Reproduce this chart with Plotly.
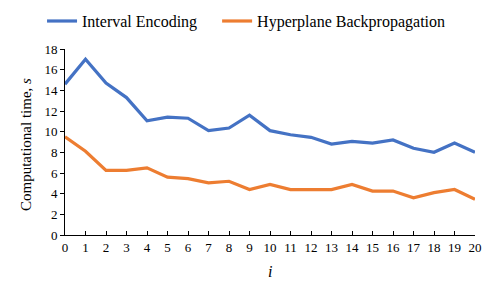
import plotly.graph_objects as go

iterations = list(range(21))
interval_encoding = [14.6, 17.0, 14.7, 13.3, 11.05, 11.4, 11.3, 10.1, 10.35, 11.6, 10.1,
                     9.7, 9.45, 8.8, 9.05, 8.9, 9.2, 8.4, 8.0, 8.9, 8.0]
hyperplane_backprop = [9.5, 8.1, 6.25, 6.25, 6.5, 5.6, 5.45, 5.05, 5.2, 4.4, 4.9,
                       4.4, 4.4, 4.4, 4.9, 4.25, 4.25, 3.6, 4.1, 4.4, 3.45]
x_ticks = list(range(0, 21))
y_ticks = list(range(0, 19, 2))

FONT = "Liberation Serif"

fig = go.Figure()
fig.add_trace(go.Scatter(x=iterations, y=interval_encoding, mode="lines",
                         name="Interval Encoding", legend="legend",
                         line=dict(color="#4472C4", width=3.2)))
fig.add_trace(go.Scatter(x=iterations, y=hyperplane_backprop, mode="lines",
                         name="Hyperplane Backpropagation", legend="legend2",
                         line=dict(color="#ED7D31", width=3.2)))

legend_common = dict(orientation="h", xanchor="left",
                     y=0.955, yref="container", yanchor="middle",
                     font=dict(size=16, family=FONT, color="#000"), itemwidth=30,
                     bgcolor="rgba(0,0,0,0)")

tick_font = dict(size=13, family=FONT, color="#000")

fig.update_layout(
    width=490, height=291,
    margin=dict(l=57, r=23, t=41, b=64),
    paper_bgcolor="white", plot_bgcolor="white",
    font=dict(family=FONT, size=13, color="#000"),
    showlegend=True,
    legend=dict(x=-0.056, **legend_common),
    legend2=dict(x=0.371, **legend_common),
    xaxis=dict(range=[0, 20], tickvals=x_ticks, ticktext=[str(v) for v in x_ticks],
               showgrid=False, zeroline=False, showline=True, linecolor="#000",
               linewidth=1, ticks="inside", ticklen=4, tickcolor="#000",
               tickfont=tick_font, automargin=False),
    yaxis=dict(range=[0, 18], tickvals=y_ticks, ticktext=[str(v) for v in y_ticks],
               showgrid=False, zeroline=False, showline=True, linecolor="#000",
               linewidth=1, ticks="outside", ticklen=4, tickcolor="#000",
               tickfont=tick_font, automargin=False),
    annotations=[
        dict(text="Computational time, <i>s</i>", xref="paper", yref="paper",
             x=-0.095, y=0.484, textangle=-90, showarrow=False,
             xanchor="center", yanchor="middle", font=dict(size=15, family=FONT, color="#000")),
        dict(text="<i>i</i>", xref="paper", yref="paper",
             x=0.5, y=-0.194, showarrow=False,
             xanchor="center", yanchor="middle", font=dict(size=16, family=FONT, color="#000")),
    ],
)
fig.write_html("out.html")
